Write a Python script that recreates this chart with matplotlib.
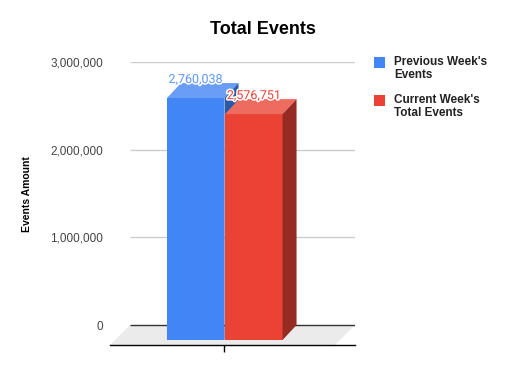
import matplotlib
matplotlib.use("Agg")
import matplotlib.pyplot as plt
import matplotlib.patheffects as pe
from matplotlib import font_manager
from matplotlib.patches import Polygon, Rectangle

series_names = ["Previous Week's\nEvents", "Current Week's\nTotal Events"]
values = [2760038, 2576751]
value_labels = ["2,760,038", "2,576,751"]
y_ticks = [0, 1000000, 2000000, 3000000]
y_tick_labels = ["0", "1,000,000", "2,000,000", "3,000,000"]

front_colors = ["#4285f4", "#ea4335"]
top_colors = ["#6a9ef6", "#ee6b60"]
side_colors = ["#2c5aa8", "#952b23"]
label_colors = ["#5c96f5", "#ea4335"]

W, H = 517, 371

# 3d look: offsets of the back plane relative to the front
bar_dx, bar_dy = 0.2435, 171100
floor_dx, floor_dy = 0.348, 228100
x_min, x_max = -1.991, 2.270
y_min, y_max = -floor_dy, 3000000


def draw_bar(ax, left, value, i):
    ax.bar(left, value, width=1.0, bottom=-bar_dy, align="edge",
           color=front_colors[i], linewidth=0, zorder=3 + i)
    top = [(left, value - bar_dy), (left + 1, value - bar_dy),
           (left + 1 + bar_dx, value), (left + bar_dx, value)]
    side = [(left + 1, value - bar_dy), (left + 1 + bar_dx, value),
            (left + 1 + bar_dx, 0), (left + 1, -bar_dy)]
    ax.add_patch(Polygon(top, closed=True, color=top_colors[i], lw=0, zorder=3 + i))
    ax.add_patch(Polygon(side, closed=True, color=side_colors[i], lw=0, zorder=3 + i))
    t = ax.text(left + 0.5, value, value_labels[i], ha="center", va="baseline",
                color=label_colors[i], fontsize=9, family="Roboto", zorder=10)
    t.set_path_effects([pe.withStroke(linewidth=2.2, foreground="white")])


def main():
    plt.rcParams["font.family"] = ["Liberation Sans", "DejaVu Sans"]
    names = {f.name for f in font_manager.fontManager.ttflist}
    if "Liberation Sans Narrow" in names:
        ylab_font, ylab_size = "Liberation Sans Narrow", 9
    else:
        ylab_font, ylab_size = "Liberation Sans", 7.5

    fig = plt.figure(figsize=(W / 100, H / 100), dpi=100)
    ax = fig.add_axes([110 / W, 26 / H, 245 / W, 283 / H])
    ax.set_xlim(x_min, x_max)
    ax.set_ylim(y_min, y_max)

    # floor
    floor = [(x_min, -floor_dy), (x_min + 3.913, -floor_dy),
             (x_min + 3.913 + floor_dx, 0), (x_min + floor_dx, 0)]
    ax.add_patch(Polygon(floor, closed=True, color="#ebebeb", lw=0, zorder=1))

    ax.hlines(y_ticks[1:], x_min + floor_dx, x_max, color="#cccccc", lw=1, zorder=2)
    ax.hlines([0], x_min + floor_dx, x_max, color="#333333", lw=1, zorder=2)

    lefts = [-1.0, 0.01]
    for i, v in enumerate(values):
        draw_bar(ax, lefts[i], v, i)

    for s in ["top", "right", "left"]:
        ax.spines[s].set_visible(False)
    ax.spines["bottom"].set_color("black")
    ax.spines["bottom"].set_linewidth(1)
    ax.set_xticks([0], [""])
    ax.tick_params(axis="x", length=5, width=1, color="black")
    ax.set_yticks(y_ticks, y_tick_labels)
    ax.tick_params(axis="y", length=0, pad=5, labelsize=8.5, labelcolor="#444444")

    fig.text(262.5 / W, 1 - 30 / H, "Total Events", ha="center", va="center",
             fontsize=13, fontweight="bold", color="black")
    fig.text(27 / W, 1 - 194.5 / H, "Events Amount", ha="center", va="center",
             rotation=90, fontsize=ylab_size, fontweight="bold", color="black",
             family=[ylab_font, "DejaVu Sans"])

    legend_y = [68.5, 106.5]
    for i, name in enumerate(series_names):
        fig.add_artist(Rectangle((374 / W, 1 - (legend_y[i] - 0.5) / H), 11 / W, 11 / H,
                                 transform=fig.transFigure, color=front_colors[i], lw=0))
        fig.text(394 / W, 1 - legend_y[i] / H, name, ha="left", va="center",
                 fontsize=8.5, fontweight="bold", color="#222222", linespacing=1.1)

    fig.savefig("out.png", dpi=100)
    plt.close(fig)


if __name__ == "__main__":
    main()
